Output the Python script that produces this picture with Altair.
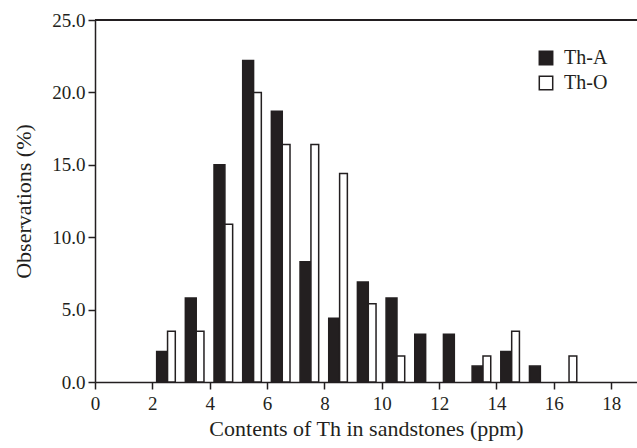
import altair as alt
import pandas as pd

bins = [2, 3, 4, 5, 6, 7, 8, 9, 10, 11, 12, 13, 14, 15, 16]
th_a = [2.1, 5.8, 15.0, 22.2, 18.7, 8.3, 4.4, 6.9, 5.8, 3.3, 3.3, 1.1, 2.1, 1.1, 0.0]
th_o = [3.5, 3.5, 10.9, 20.0, 16.4, 16.4, 14.4, 5.4, 1.8, 0.0, 0.0, 1.8, 3.5, 0.0, 1.8]
series = ["Th-A", "Th-O"]
x_ticks = [0, 2, 4, 6, 8, 10, 12, 14, 16, 18]
y_ticks = [0, 5, 10, 15, 20, 25]

rows = []
for b, a, o in zip(bins, th_a, th_o):
    if a > 0:
        rows.append({"bin": b, "series": series[0], "value": a})
    if o > 0:
        rows.append({"bin": b, "series": series[1], "value": o})
df = pd.DataFrame(rows)

W, H = 542, 362
FONT = "Liberation Serif"
INK = "#231f20"

xscale = alt.Scale(domain=[0, 18.9], nice=False, zero=False)
yscale = alt.Scale(domain=[0, 25], nice=False)

bars = alt.Chart(df).transform_calculate(
    x0="datum.bin + (datum.series == 'Th-A' ? 0.15 : 0.53)",
    x1="datum.bin + (datum.series == 'Th-A' ? 0.53 : 0.8)",
).mark_bar(stroke=INK, strokeWidth=1.5, strokeJoin="miter").encode(
    x=alt.X("x0:Q", scale=xscale,
            axis=alt.Axis(values=x_ticks, format="d", title="Contents of Th in sandstones (ppm)",
                          grid=False, domainColor=INK, domainWidth=1.5, tickColor=INK,
                          tickWidth=1.5, tickSize=7, labelFont=FONT, labelFontSize=19,
                          labelColor=INK, labelPadding=5, titleFont=FONT, titleFontSize=22,
                          titleFontWeight="normal", titleColor=INK, titlePadding=5,
                          labelFlush=False)),
    x2="x1:Q",
    y=alt.Y("value:Q", scale=yscale,
            axis=alt.Axis(values=y_ticks, format=".1f", title="Observations (%)",
                          grid=False, domainColor=INK, domainWidth=1.5, tickColor=INK,
                          tickWidth=1.5, tickSize=7, labelFont=FONT, labelFontSize=19,
                          labelColor=INK, labelPadding=3, titleFont=FONT, titleFontSize=22,
                          titleFontWeight="normal", titleColor=INK, titlePadding=16)),
    y2=alt.datum(0),
    fill=alt.Fill("series:N", scale=alt.Scale(domain=series, range=[INK, "white"]),
                  legend=alt.Legend(title=None, orient="none", legendX=441, legendY=28,
                                    symbolType="square", symbolSize=180,
                                    symbolStrokeColor=INK, symbolStrokeWidth=1.5,
                                    labelFont=FONT, labelFontSize=20, labelColor=INK,
                                    labelOffset=8, rowPadding=5, padding=0)),
)

top_line = alt.Chart(df).mark_rule(color=INK, strokeWidth=1.5).encode(
    x=alt.value(0), x2=alt.value(W), y=alt.value(0)
)

chart = alt.layer(bars, top_line).properties(
    width=W, height=H,
    autosize=alt.AutoSizeParams(type="none"),
    padding={"left": 95, "top": 20, "right": 0, "bottom": 66},
).configure_view(stroke=None).configure(background="white")

chart.save("out.html", embed_options={"renderer": "svg", "actions": False})
